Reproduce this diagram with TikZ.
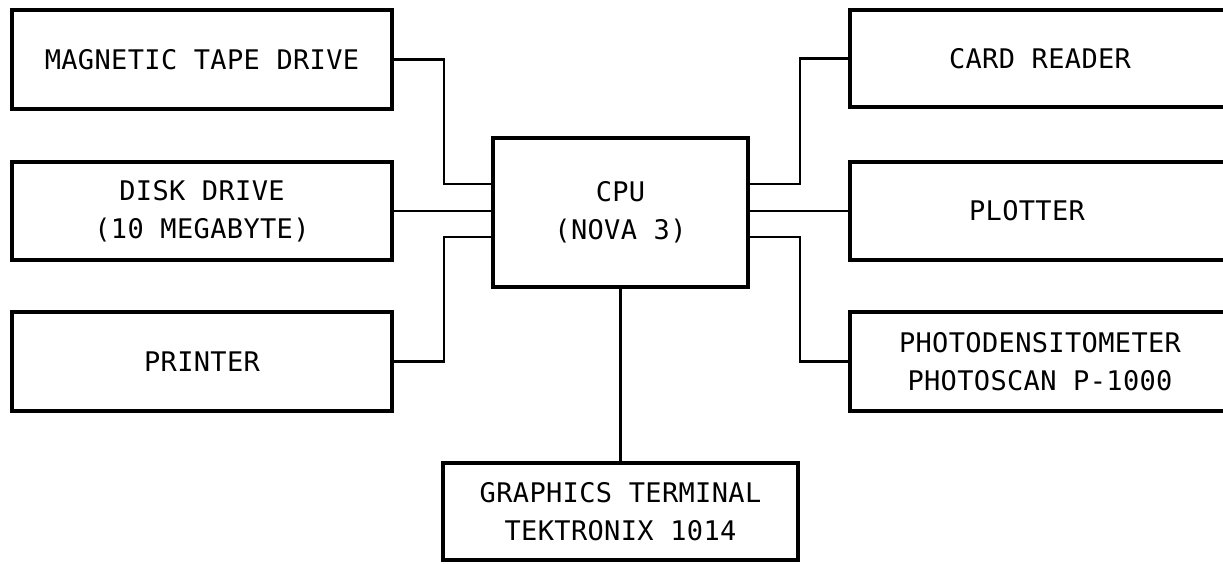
\documentclass[tikz,border=0pt]{standalone}
\usepackage{fontspec}
\newfontfamily\lettering[LetterSpace=1.3]{DejaVu Sans Mono}
\usetikzlibrary{calc}
\tikzset{
  unit/.style={draw=black, line width=4pt, rectangle, inner sep=0pt,
    align=center, font=\lettering\fontsize{27}{38}\selectfont, text=black},
  wire/.style={draw=black, line width=2.6pt, line cap=rect}
}
\begin{document}
\begin{tikzpicture}[x=1pt,y=-1pt]
\useasboundingbox (0,0) rectangle (1223,563);
\clip (0,0) rectangle (1223,563);
% left column
\node[unit, minimum width=380pt, minimum height=99pt] (mag) at (202,59.5) {MAGNETIC TAPE DRIVE};
\node[unit, minimum width=380pt, minimum height=98pt] (disk) at (202,211) {DISK DRIVE\\(10 MEGABYTE)};
\node[unit, minimum width=380pt, minimum height=99pt] (printer) at (202,361.5) {PRINTER};
% centre
\node[unit, minimum width=255pt, minimum height=149pt] (cpu) at (620.5,212.5) {CPU\\(NOVA 3)};
\node[unit, minimum width=355pt, minimum height=97pt] (gfx) at (620.5,511.5) {GRAPHICS TERMINAL\\TEKTRONIX 1014};
% right column (runs past the right edge)
\node[unit, minimum width=380pt, minimum height=97pt] (card) at (1040,58.5) {CARD READER};
\node[unit, minimum width=380pt, minimum height=98pt] (plotter) at (1040,211) {\hspace*{-26pt}PLOTTER};
\node[unit, minimum width=380pt, minimum height=99pt] (photo) at (1040,361.5) {PHOTODENSITOMETER\\PHOTOSCAN P-1000};
% connectors
\draw[wire] (mag.east) -- ++(50,0) |- ([yshift=28.5pt]cpu.west);
\draw[wire] (disk.east) -- (disk.east -| cpu.west);
\draw[wire] (printer.east) -- ++(50,0) |- ([yshift=-24.5pt]cpu.west);
\draw[wire] ([yshift=28.5pt]cpu.east) -- ++(50,0) |- (card.west);
\draw[wire] (plotter.west -| cpu.east) -- (plotter.west);
\draw[wire] ([yshift=-24.5pt]cpu.east) -- ++(50,0) |- (photo.west);
\draw[wire] (gfx.north |- cpu.south) -- (gfx.north);
\end{tikzpicture}
\end{document}
